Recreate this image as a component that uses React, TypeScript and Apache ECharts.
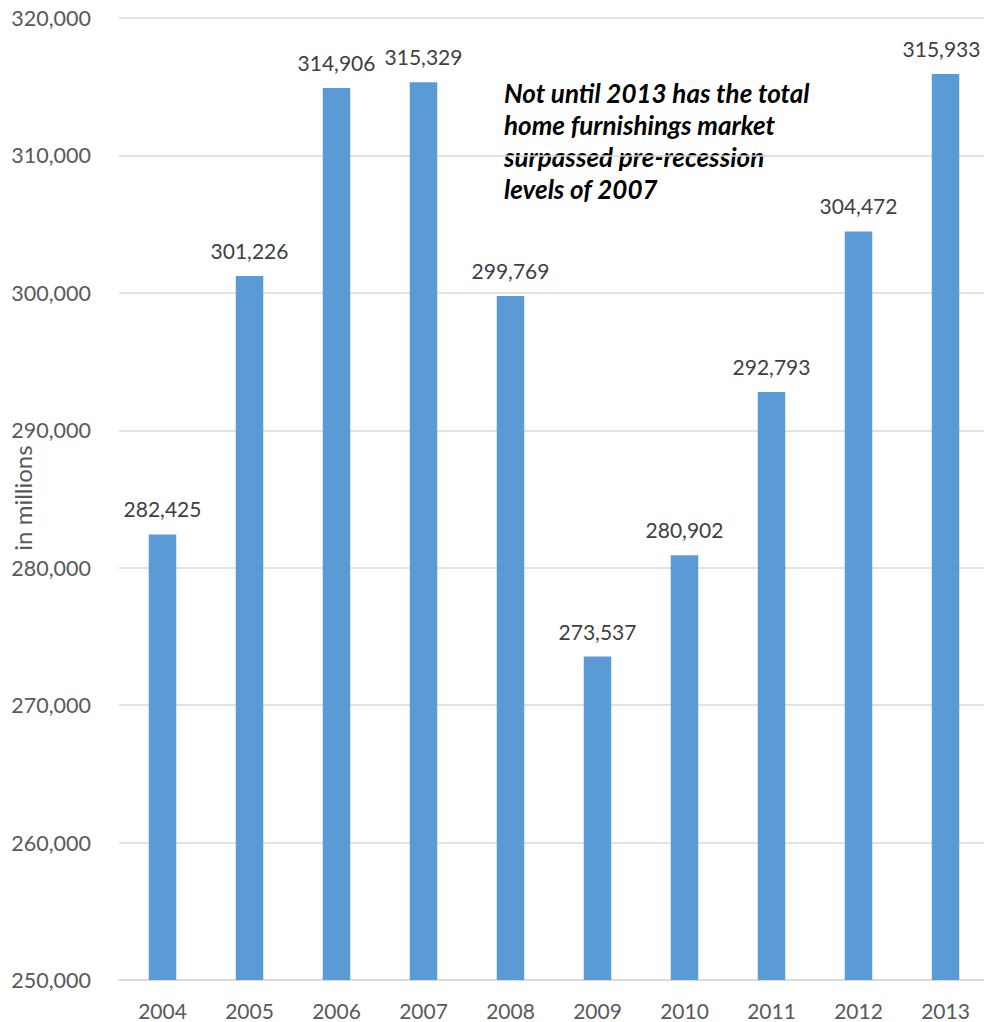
import React, { useEffect, useRef } from "react";
import * as echarts from "echarts";

const years = ["2004", "2005", "2006", "2007", "2008", "2009", "2010", "2011", "2012", "2013"];
const values = [282425, 301226, 314906, 315329, 299769, 273537, 280902, 292793, 304472, 315933];
const annotationLines = [
  "Not until 2013 has the total",
  "home furnishings market",
  "surpassed pre-recession",
  "levels of 2007",
];
const yAxisName = "in millions";

const FONT = "Lato";

export default function App() {
  const ref = useRef<HTMLDivElement>(null);
  useEffect(() => {
    document.body.style.margin = "0";
    const chart = echarts.init(ref.current!, null, { renderer: "svg" });
    const lastIdx = values.length - 1;
    chart.setOption({
      animation: false,
      grid: {
        left: 119,
        right: -5,
        top: 18,
        bottom: 42,
        containLabel: false,
        outerBoundsMode: "none",
      },
      xAxis: {
        type: "category",
        data: years,
        axisLine: { show: true, lineStyle: { color: "#D9D9D9", width: 1.5 } },
        axisTick: { show: false },
        axisLabel: {
          color: "#595959",
          fontSize: 21,
          lineHeight: 21,
          fontFamily: FONT,
          margin: 20,
        },
      },
      yAxis: {
        type: "value",
        min: 250000,
        max: 320000,
        interval: 10000,
        axisLine: { show: false },
        axisTick: { show: false },
        splitLine: { lineStyle: { color: "#D9D9D9", width: 1.5 } },
        axisLabel: {
          color: "#595959",
          fontSize: 21.5,
          fontFamily: FONT,
          margin: 28,
          formatter: (v: number) => v.toLocaleString("en-US"),
        },
      },
      series: [
        {
          type: "bar",
          data: values.map((v, i) =>
            i === lastIdx ? { value: v, label: { offset: [-4, 0] } } : v
          ),
          barWidth: 27.5,
          itemStyle: { color: "#5B9BD5" },
          label: {
            show: true,
            position: "top",
            distance: 15,
            color: "#404040",
            fontSize: 21,
            fontFamily: FONT,
            formatter: (p: any) => Number(p.value).toLocaleString("en-US"),
          },
        },
      ],
      graphic: [
        {
          type: "text",
          left: 504,
          top: 77,
          style: {
            text: annotationLines.join("\n"),
            font: `italic bold 26px ${FONT}`,
            fill: "#000000",
            lineHeight: 32,
          },
        },
        {
          type: "text",
          x: 22,
          y: 498,
          rotation: Math.PI / 2,
          style: {
            text: yAxisName,
            font: `24px ${FONT}`,
            fill: "#595959",
            align: "center",
            verticalAlign: "middle",
          },
        },
      ],
    });
    return () => chart.dispose();
  }, []);
  return <div ref={ref} style={{ width: 984, height: 1022 }} />;
}
